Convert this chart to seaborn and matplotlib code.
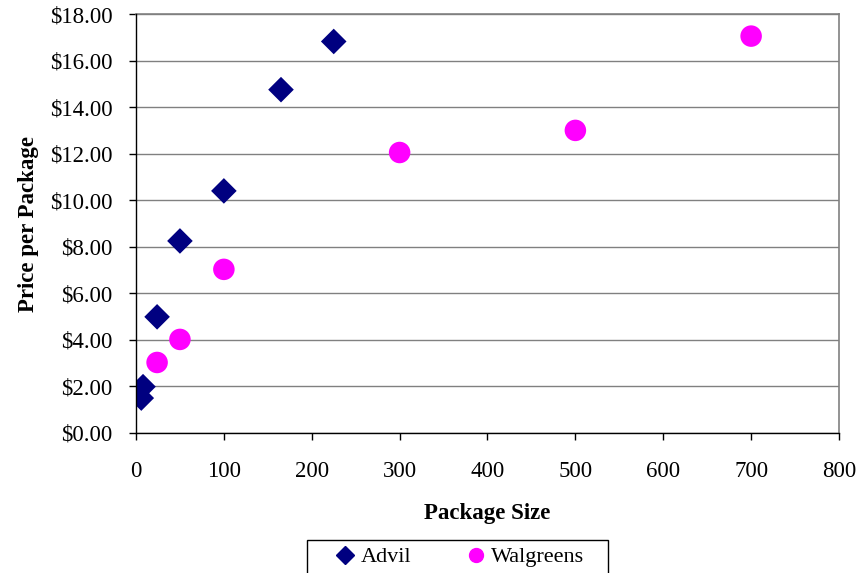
import numpy as np
import pandas as pd
import matplotlib
matplotlib.use("Agg")
import matplotlib.pyplot as plt
import seaborn as sns
from matplotlib.ticker import FuncFormatter, MultipleLocator
from matplotlib.lines import Line2D
from matplotlib.patches import Rectangle

# data
advil_size = [6, 8, 24, 50, 100, 165, 225]
advil_price = [1.50, 1.99, 4.99, 8.25, 10.40, 14.75, 16.82]
walg_size = [24, 50, 100, 300, 500, 700]
walg_price = [3.03, 4.02, 7.03, 12.05, 13.00, 17.05]

df = pd.concat([
    pd.DataFrame({"size": advil_size, "price": advil_price, "brand": "Advil"}),
    pd.DataFrame({"size": walg_size, "price": walg_price, "brand": "Walgreens"}),
])

sns.set_style("white")
plt.rcParams["font.family"] = ["Liberation Serif", "DejaVu Serif"]
plt.rcParams["text.color"] = "black"
plt.rcParams["axes.labelcolor"] = "black"
plt.rcParams["xtick.color"] = "black"
plt.rcParams["ytick.color"] = "black"

W, H = 858, 573
fig = plt.figure(figsize=(W / 100, H / 100), dpi=100)
ax = fig.add_axes([136 / W, 1 - 433 / H, (839 - 136) / W, (433 - 14) / H])

sns.scatterplot(data=df, x="size", y="price", hue="brand", style="brand",
                palette={"Advil": "#000080", "Walgreens": "#FF00FF"},
                markers={"Advil": "D", "Walgreens": "o"},
                s=180, linewidth=0, ax=ax, zorder=3, legend=False)
# circles a bit larger than diamonds
ax.collections[0].set_sizes([170 if b == "Advil" else 240 for b in df["brand"]])

ax.set_xlim(0, 800)
ax.set_ylim(0, 18)
ax.xaxis.set_major_locator(MultipleLocator(100))
ax.yaxis.set_major_locator(MultipleLocator(2))
ax.yaxis.set_major_formatter(FuncFormatter(lambda v, p: f"${v:.2f}"))
ax.grid(axis="y", color="#808080", linewidth=1)
ax.grid(axis="x", visible=False)
ax.set_axisbelow(True)
for side in ["top", "right"]:
    ax.spines[side].set_color("#808080")
    ax.spines[side].set_linewidth(1.2)
for side in ["left", "bottom"]:
    ax.spines[side].set_color("black")
    ax.spines[side].set_linewidth(1)
    ax.spines[side].set_zorder(4)
ax.tick_params(axis="both", direction="out", length=5, width=1, color="black",
               labelsize=16.5, bottom=True, left=True)
ax.tick_params(axis="x", pad=15)
ax.tick_params(axis="y", pad=12)

ax.set_xlabel("Package Size", fontsize=16.5, fontweight="bold", labelpad=15)
ax.set_ylabel("Price per Package", fontsize=16.5, fontweight="bold", labelpad=8)

handles = [
    Line2D([], [], marker="D", color="#000080", linestyle="", markersize=9),
    Line2D([], [], marker="o", color="#FF00FF", linestyle="", markersize=10),
]
leg = fig.legend(handles, ["Advil", "Walgreens"], loc="center",
                 bbox_to_anchor=(459 / W, 1 - 557 / H), ncol=2, frameon=False,
                 fontsize=16, handlelength=1, handletextpad=0.2,
                 columnspacing=2.4, borderpad=0)
fig.patches.append(Rectangle((307 / W, 1 - 575 / H), (608 - 307) / W, 35 / H,
                             transform=fig.transFigure, fill=False,
                             edgecolor="black", linewidth=1))

fig.savefig("out.png", dpi=100)
